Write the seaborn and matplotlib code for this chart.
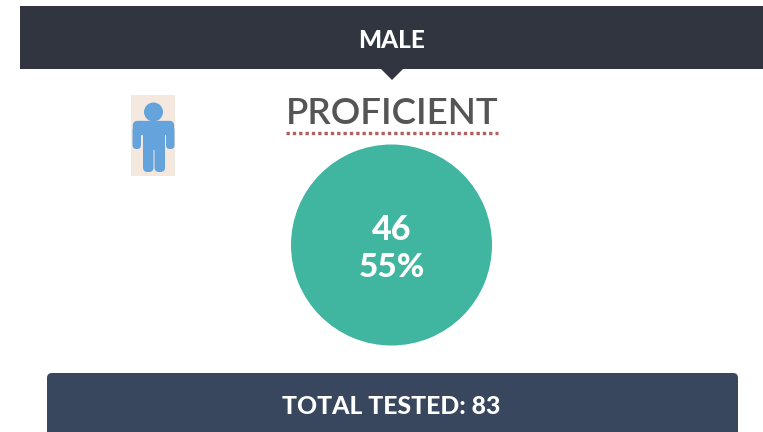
import matplotlib
matplotlib.use("Agg")
import matplotlib.pyplot as plt
from matplotlib.patches import Rectangle, Polygon, FancyBboxPatch, Circle
import seaborn as sns

group_label = "MALE"
level_label = "PROFICIENT"
proficient_count = [46]
proficient_percent = 55
total_tested = 83

sns.set_theme(style="white")
plt.rcParams['font.family'] = ['Lato', 'DejaVu Sans']

fig = plt.figure(figsize=(7.63, 4.32), dpi=100, facecolor="white")
ax = fig.add_axes([0, 0, 1, 1])

# header and pointer
ax.add_patch(Rectangle((20, 6), 743, 63, fc="#31353f", ec="none"))
ax.add_patch(Polygon([(381, 69), (403, 69), (392, 80)], fc="#31353f", ec="none"))
ax.text(391, 38, group_label, color="white", fontsize=17.5, fontweight=900, ha="center", va="center_baseline")

# title with dotted underline
ax.text(392, 110, level_label, color="#555555", fontsize=26.5, fontweight=600, ha="center", va="center_baseline")
ax.plot([286, 498], [133, 133], color="#b0605f", lw=2.4, ls=(0, (1.0, 0.9)), solid_capstyle="butt")

# person icon
icon = "#64a3dc"
ax.add_patch(Rectangle((131, 95), 44, 81, fc="#f5e8df", ec="none"))
ax.add_patch(Circle((153.5, 112), 9.5, fc=icon, ec="none"))
ax.add_patch(FancyBboxPatch((137, 125), 33, 6, boxstyle="round,pad=0,rounding_size=0", fc=icon, ec=icon, lw=6, joinstyle="round"))
ax.add_patch(FancyBboxPatch((132.5, 127), 8.5, 22, boxstyle="round,pad=0,rounding_size=4", fc=icon, ec="none"))
ax.add_patch(FancyBboxPatch((166, 127), 8.5, 22, boxstyle="round,pad=0,rounding_size=4", fc=icon, ec="none"))
ax.add_patch(Rectangle((143, 125), 22, 25, fc=icon, ec="none"))
ax.add_patch(FancyBboxPatch((143, 140), 10.5, 32, boxstyle="round,pad=0,rounding_size=4.5", fc=icon, ec="none"))
ax.add_patch(FancyBboxPatch((154.5, 140), 10.5, 32, boxstyle="round,pad=0,rounding_size=4.5", fc=icon, ec="none"))

# single-value circle
ax.pie(proficient_count, radius=100.5, center=(391.5, 245), colors=["#40b5a0"], frame=True,
       wedgeprops={"linewidth": 0})
ax.text(391.5, 227, str(proficient_count[0]), color="white", fontsize=24.5, fontweight=900, ha="center", va="center_baseline")
ax.text(391.5, 265, f"{proficient_percent}%", color="white", fontsize=24, fontweight=900, ha="center", va="center_baseline")

# footer
ax.add_patch(FancyBboxPatch((47, 373), 691, 90, boxstyle="round,pad=0,rounding_size=5", fc="#38475d", ec="none"))
ax.text(391.5, 404, f"TOTAL TESTED: {total_tested}", color="white", fontsize=17.8, fontweight=900, ha="center", va="center_baseline")

ax.set_aspect("equal")
ax.set_xlim(0, 763)
ax.set_ylim(432, 0)
ax.axis("off")
fig.savefig("out.png", dpi=100, facecolor="white")
